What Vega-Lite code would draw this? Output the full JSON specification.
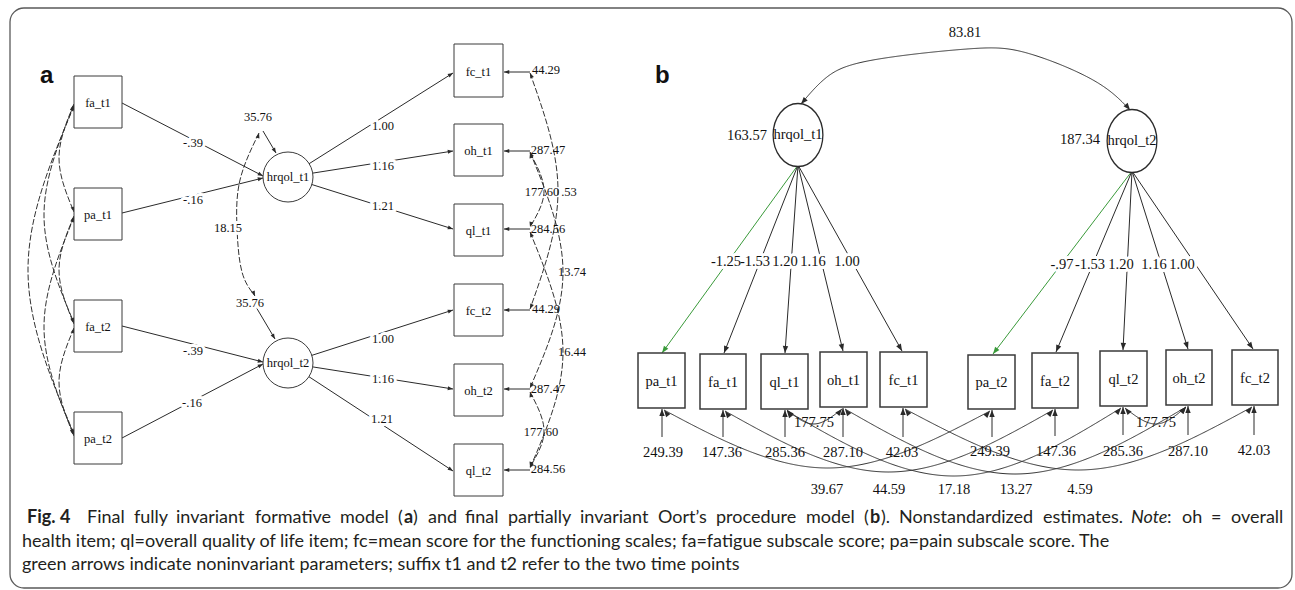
{
"$schema":"https://vega.github.io/schema/vega-lite/v6.json",
"width":1295,"height":590,"autosize":{"type":"none"},"padding":0,"background":"white",
"config":{"view":{"stroke":null}},
"datasets":{
"frame":[{"x":10,"y":8,"x2":1292,"y2":588}],
"boxes":[
{"x":74,"y":76,"x2":122,"y2":128,"t":"fa_t1","p":"a"},
{"x":74,"y":188,"x2":122,"y2":240,"t":"pa_t1","p":"a"},
{"x":74,"y":300,"x2":122,"y2":352,"t":"fa_t2","p":"a"},
{"x":74,"y":412,"x2":122,"y2":464,"t":"pa_t2","p":"a"},
{"x":454,"y":44,"x2":503,"y2":97,"t":"fc_t1","p":"a"},
{"x":454,"y":124,"x2":503,"y2":176,"t":"oh_t1","p":"a"},
{"x":454,"y":204,"x2":503,"y2":256,"t":"ql_t1","p":"a"},
{"x":454,"y":284,"x2":503,"y2":336,"t":"fc_t2","p":"a"},
{"x":454,"y":364,"x2":503,"y2":416,"t":"oh_t2","p":"a"},
{"x":454,"y":444,"x2":503,"y2":496,"t":"ql_t2","p":"a"},
{"x":638,"y":353,"x2":685,"y2":408,"t":"pa_t1","p":"b"},
{"x":700,"y":354,"x2":746,"y2":409,"t":"fa_t1","p":"b"},
{"x":761,"y":354,"x2":808,"y2":409,"t":"ql_t1","p":"b"},
{"x":820,"y":352,"x2":867,"y2":407,"t":"oh_t1","p":"b"},
{"x":880,"y":352,"x2":927,"y2":407,"t":"fc_t1","p":"b"},
{"x":968,"y":355,"x2":1015,"y2":409,"t":"pa_t2","p":"b"},
{"x":1032,"y":353,"x2":1078,"y2":408,"t":"fa_t2","p":"b"},
{"x":1100,"y":351,"x2":1147,"y2":406,"t":"ql_t2","p":"b"},
{"x":1166,"y":350,"x2":1212,"y2":405,"t":"oh_t2","p":"b"},
{"x":1232,"y":350,"x2":1278,"y2":405,"t":"fc_t2","p":"b"}
],
"lat_a":[{"x":288,"y":177,"t":"hrqol_t1"},{"x":288,"y":363,"t":"hrqol_t2"}],
"lat_b":[{"x":798,"y":135,"t":"hrqol_t1"},{"x":1132,"y":141,"t":"hrqol_t2"}],
"edges":[
{"x":122,"y":103,"x2":263,"y2":176,"c":"k","p":"a"},
{"x":122,"y":213,"x2":263,"y2":178,"c":"k","p":"a"},
{"x":288,"y":177,"x2":453,"y2":73,"c":"k","p":"a"},
{"x":288,"y":177,"x2":453,"y2":151,"c":"k","p":"a"},
{"x":288,"y":177,"x2":453,"y2":229,"c":"k","p":"a"},
{"x":122,"y":326,"x2":263,"y2":362,"c":"k","p":"a"},
{"x":122,"y":438,"x2":263,"y2":364,"c":"k","p":"a"},
{"x":288,"y":363,"x2":453,"y2":310,"c":"k","p":"a"},
{"x":288,"y":363,"x2":453,"y2":389,"c":"k","p":"a"},
{"x":288,"y":363,"x2":453,"y2":471,"c":"k","p":"a"},
{"x":530,"y":72,"x2":504,"y2":72,"c":"k","p":"a"},
{"x":530,"y":151,"x2":504,"y2":151,"c":"k","p":"a"},
{"x":530,"y":229,"x2":504,"y2":229,"c":"k","p":"a"},
{"x":530,"y":310,"x2":504,"y2":310,"c":"k","p":"a"},
{"x":530,"y":389,"x2":504,"y2":389,"c":"k","p":"a"},
{"x":530,"y":470,"x2":504,"y2":470,"c":"k","p":"a"},
{"x":263,"y":131,"x2":276,"y2":153,"c":"k","p":"a"},
{"x":256,"y":307,"x2":275,"y2":339,"c":"k","p":"a"},
{"x":798,"y":165,"x2":662,"y2":353,"c":"g","p":"b"},
{"x":798,"y":165,"x2":724,"y2":353,"c":"k","p":"b"},
{"x":798,"y":165,"x2":785,"y2":353,"c":"k","p":"b"},
{"x":798,"y":165,"x2":843,"y2":351,"c":"k","p":"b"},
{"x":798,"y":165,"x2":902,"y2":351,"c":"k","p":"b"},
{"x":1132,"y":171,"x2":993,"y2":354,"c":"g","p":"b"},
{"x":1132,"y":171,"x2":1056,"y2":352,"c":"k","p":"b"},
{"x":1132,"y":171,"x2":1123,"y2":350,"c":"k","p":"b"},
{"x":1132,"y":171,"x2":1188,"y2":349,"c":"k","p":"b"},
{"x":1132,"y":171,"x2":1253,"y2":349,"c":"k","p":"b"},
{"x":662,"y":437,"x2":662,"y2":409,"c":"k","p":"b"},
{"x":723,"y":437,"x2":723,"y2":410,"c":"k","p":"b"},
{"x":785,"y":437,"x2":785,"y2":410,"c":"k","p":"b"},
{"x":843,"y":437,"x2":843,"y2":408,"c":"k","p":"b"},
{"x":903,"y":437,"x2":903,"y2":408,"c":"k","p":"b"},
{"x":992,"y":437,"x2":992,"y2":410,"c":"k","p":"b"},
{"x":1055,"y":436,"x2":1055,"y2":409,"c":"k","p":"b"},
{"x":1123,"y":435,"x2":1123,"y2":407,"c":"k","p":"b"},
{"x":1188,"y":435,"x2":1188,"y2":406,"c":"k","p":"b"},
{"x":1254,"y":435,"x2":1254,"y2":406,"c":"k","p":"b"}
],
"curves":[
{"id":"c1","i":0,"x":74,"y":104,"p":"a"},{"id":"c1","i":1,"x":59,"y":158,"p":"a"},{"id":"c1","i":2,"x":74,"y":212,"p":"a"},
{"id":"c2","i":0,"x":74,"y":216,"p":"a"},{"id":"c2","i":1,"x":59,"y":270,"p":"a"},{"id":"c2","i":2,"x":74,"y":324,"p":"a"},
{"id":"c3","i":0,"x":74,"y":328,"p":"a"},{"id":"c3","i":1,"x":59,"y":382,"p":"a"},{"id":"c3","i":2,"x":74,"y":436,"p":"a"},
{"id":"c4","i":0,"x":74,"y":105,"p":"a"},{"id":"c4","i":1,"x":44,"y":215,"p":"a"},{"id":"c4","i":2,"x":74,"y":323,"p":"a"},
{"id":"c5","i":0,"x":74,"y":217,"p":"a"},{"id":"c5","i":1,"x":44,"y":327,"p":"a"},{"id":"c5","i":2,"x":74,"y":435,"p":"a"},
{"id":"c6","i":0,"x":74,"y":106,"p":"a"},{"id":"c6","i":1,"x":28,"y":270,"p":"a"},{"id":"c6","i":2,"x":74,"y":434,"p":"a"},
{"id":"c7","i":0,"x":530,"y":73,"p":"a"},{"id":"c7","i":1,"x":558,"y":191,"p":"a"},{"id":"c7","i":2,"x":530,"y":309,"p":"a"},
{"id":"c8","i":0,"x":530,"y":152,"p":"a"},{"id":"c8","i":1,"x":563,"y":272,"p":"a"},{"id":"c8","i":2,"x":530,"y":388,"p":"a"},
{"id":"c9","i":0,"x":530,"y":232,"p":"a"},{"id":"c9","i":1,"x":563,"y":352,"p":"a"},{"id":"c9","i":2,"x":530,"y":468,"p":"a"},
{"id":"c10","i":0,"x":530,"y":153,"p":"a"},{"id":"c10","i":1,"x":544,"y":191,"p":"a"},{"id":"c10","i":2,"x":530,"y":227,"p":"a"},
{"id":"c11","i":0,"x":530,"y":392,"p":"a"},{"id":"c11","i":1,"x":544,"y":431,"p":"a"},{"id":"c11","i":2,"x":530,"y":467,"p":"a"},
{"id":"c12","i":0,"x":259,"y":133,"p":"a"},{"id":"c12","i":1,"x":240,"y":180,"p":"a"},{"id":"c12","i":2,"x":237,"y":228,"p":"a"},{"id":"c12","i":3,"x":242,"y":272,"p":"a"},{"id":"c12","i":4,"x":255,"y":296,"p":"a"},
{"id":"c13","i":0,"x":801,"y":104,"p":"b"},{"id":"c13","i":1,"x":827,"y":77,"p":"b"},{"id":"c13","i":2,"x":873,"y":60,"p":"b"},{"id":"c13","i":3,"x":967,"y":49,"p":"b"},{"id":"c13","i":4,"x":1027,"y":53,"p":"b"},{"id":"c13","i":5,"x":1093,"y":80,"p":"b"},{"id":"c13","i":6,"x":1130,"y":110,"p":"b"},
{"id":"c14","i":0,"x":787,"y":410,"p":"b"},{"id":"c14","i":1,"x":814,"y":424,"p":"b"},{"id":"c14","i":2,"x":842,"y":409,"p":"b"},
{"id":"c15","i":0,"x":1125,"y":408,"p":"b"},{"id":"c15","i":1,"x":1156,"y":424,"p":"b"},{"id":"c15","i":2,"x":1186,"y":407,"p":"b"},
{"id":"c16","i":0,"x":664,"y":410,"p":"b"},{"id":"c16","i":1,"x":827,"y":468,"p":"b"},{"id":"c16","i":2,"x":990,"y":411,"p":"b"},
{"id":"c17","i":0,"x":725,"y":411,"p":"b"},{"id":"c17","i":1,"x":889,"y":472,"p":"b"},{"id":"c17","i":2,"x":1053,"y":410,"p":"b"},
{"id":"c18","i":0,"x":787,"y":411,"p":"b"},{"id":"c18","i":1,"x":955,"y":476,"p":"b"},{"id":"c18","i":2,"x":1121,"y":408,"p":"b"},
{"id":"c19","i":0,"x":845,"y":409,"p":"b"},{"id":"c19","i":1,"x":1016,"y":474,"p":"b"},{"id":"c19","i":2,"x":1186,"y":407,"p":"b"},
{"id":"c20","i":0,"x":905,"y":409,"p":"b"},{"id":"c20","i":1,"x":1079,"y":470,"p":"b"},{"id":"c20","i":2,"x":1252,"y":407,"p":"b"}
],
"cheads":[
{"x":74,"y":104,"fx":72,"fy":111,"p":"a"},{"x":74,"y":212,"fx":72,"fy":205,"p":"a"},
{"x":74,"y":216,"fx":72,"fy":223,"p":"a"},{"x":74,"y":324,"fx":72,"fy":317,"p":"a"},
{"x":74,"y":328,"fx":72,"fy":335,"p":"a"},{"x":74,"y":436,"fx":72,"fy":429,"p":"a"},
{"x":74,"y":105,"fx":71,"fy":113,"p":"a"},{"x":74,"y":323,"fx":71,"fy":315,"p":"a"},
{"x":74,"y":217,"fx":71,"fy":225,"p":"a"},{"x":74,"y":435,"fx":71,"fy":427,"p":"a"},
{"x":74,"y":106,"fx":70,"fy":114,"p":"a"},{"x":74,"y":434,"fx":70,"fy":426,"p":"a"},
{"x":530,"y":73,"fx":533,"fy":80,"p":"a"},{"x":530,"y":309,"fx":533,"fy":302,"p":"a"},
{"x":530,"y":152,"fx":533,"fy":159,"p":"a"},{"x":530,"y":388,"fx":533,"fy":381,"p":"a"},
{"x":530,"y":232,"fx":533,"fy":239,"p":"a"},{"x":530,"y":468,"fx":533,"fy":461,"p":"a"},
{"x":530,"y":153,"fx":532,"fy":160,"p":"a"},{"x":530,"y":227,"fx":532,"fy":220,"p":"a"},
{"x":530,"y":392,"fx":532,"fy":399,"p":"a"},{"x":530,"y":467,"fx":532,"fy":460,"p":"a"},
{"x":259,"y":133,"fx":257,"fy":140,"p":"a"},{"x":255,"y":296,"fx":252,"fy":289,"p":"a"},
{"x":801,"y":104,"fx":810,"fy":94,"p":"b"},{"x":1130,"y":110,"fx":1122,"fy":100,"p":"b"},
{"x":787,"y":410,"fx":793,"fy":417,"p":"b"},{"x":842,"y":409,"fx":836,"fy":416,"p":"b"},
{"x":1125,"y":408,"fx":1131,"fy":415,"p":"b"},{"x":1186,"y":407,"fx":1180,"fy":414,"p":"b"},
{"x":664,"y":410,"fx":670,"fy":418,"p":"b"},{"x":990,"y":411,"fx":983,"fy":419,"p":"b"},
{"x":725,"y":411,"fx":731,"fy":419,"p":"b"},{"x":1053,"y":410,"fx":1046,"fy":418,"p":"b"},
{"x":787,"y":411,"fx":793,"fy":419,"p":"b"},{"x":1121,"y":408,"fx":1114,"fy":416,"p":"b"},
{"x":845,"y":409,"fx":851,"fy":417,"p":"b"},{"x":1186,"y":407,"fx":1179,"fy":415,"p":"b"},
{"x":905,"y":409,"fx":911,"fy":417,"p":"b"},{"x":1252,"y":407,"fx":1245,"fy":415,"p":"b"}
],
"la_h":[
{"x":193,"y":143,"t":"-.39"},{"x":193,"y":200,"t":"-.16"},{"x":228,"y":228,"t":"18.15"},
{"x":383,"y":126,"t":"1.00"},{"x":383,"y":166,"t":"1.16"},{"x":383,"y":206,"t":"1.21"},
{"x":193,"y":351,"t":"-.39"},{"x":192,"y":403,"t":"-.16"},
{"x":383,"y":339,"t":"1.00"},{"x":383,"y":379,"t":"1.16"},{"x":382,"y":419,"t":"1.21"},
{"x":258,"y":117,"t":"35.76"},{"x":250,"y":303,"t":"35.76"}
],
"la":[
{"x":546,"y":70,"t":"44.29"},{"x":548,"y":150,"t":"287.47"},{"x":548,"y":229,"t":"284.56"},
{"x":546,"y":309,"t":"44.29"},{"x":548,"y":389,"t":"287.47"},{"x":548,"y":469,"t":"284.56"},
{"x":569,"y":192,"t":".53"},{"x":542,"y":192,"t":"177.60"},{"x":572,"y":272,"t":"13.74"},
{"x":572,"y":352,"t":"16.44"},{"x":541,"y":432,"t":"177.60"}
],
"lb_h":[
{"x":726,"y":262,"t":"-1.25"},{"x":755,"y":262,"t":"-1.53"},{"x":785,"y":262,"t":"1.20"},{"x":813,"y":262,"t":"1.16"},{"x":847,"y":262,"t":"1.00"},
{"x":1062,"y":265,"t":"-.97"},{"x":1090,"y":265,"t":"-1.53"},{"x":1121,"y":265,"t":"1.20"},{"x":1154,"y":265,"t":"1.16"},{"x":1182,"y":265,"t":"1.00"}
],
"lb":[
{"x":747,"y":136,"t":"163.57"},{"x":1080,"y":140,"t":"187.34"},{"x":965,"y":33,"t":"83.81"},
{"x":663,"y":453,"t":"249.39"},{"x":722,"y":453,"t":"147.36"},{"x":785,"y":453,"t":"285.36"},{"x":843,"y":453,"t":"287.10"},{"x":902,"y":453,"t":"42.03"},
{"x":990,"y":452,"t":"249.39"},{"x":1056,"y":452,"t":"147.36"},{"x":1123,"y":452,"t":"285.36"},{"x":1188,"y":452,"t":"287.10"},{"x":1254,"y":451,"t":"42.03"},
{"x":814,"y":423,"t":"177.75"},{"x":1156,"y":423,"t":"177.75"},
{"x":827,"y":490,"t":"39.67"},{"x":889,"y":490,"t":"44.59"},{"x":954,"y":490,"t":"17.18"},{"x":1016,"y":490,"t":"13.27"},{"x":1080,"y":490,"t":"4.59"}
],
"letters":[{"x":40,"y":83,"t":"a"},{"x":655,"y":83,"t":"b"}],
"cap":[
{"x":27,"y":523,"t":"Fig. 4","w":"b"},
{"x":87,"y":523,"t":"Final","w":"n"},
{"x":134,"y":523,"t":"fully","w":"n"},
{"x":176,"y":523,"t":"invariant","w":"n"},
{"x":255,"y":523,"t":"formative","w":"n"},
{"x":340,"y":523,"t":"model","w":"n"},
{"x":398,"y":523,"t":"(","w":"n"},
{"x":404,"y":523,"t":"a","w":"b"},
{"x":413,"y":523,"t":")","w":"n"},
{"x":428,"y":523,"t":"and","w":"n"},
{"x":465,"y":523,"t":"final","w":"n"},
{"x":508,"y":523,"t":"partially","w":"n"},
{"x":580,"y":523,"t":"invariant","w":"n"},
{"x":658,"y":523,"t":"Oort’s","w":"n"},
{"x":716,"y":523,"t":"procedure","w":"n"},
{"x":806,"y":523,"t":"model","w":"n"},
{"x":864,"y":523,"t":"(","w":"n"},
{"x":870,"y":523,"t":"b","w":"b"},
{"x":881,"y":523,"t":").","w":"n"},
{"x":899,"y":523,"t":"Nonstandardized","w":"n"},
{"x":1043,"y":523,"t":"estimates.","w":"n"},
{"x":1131,"y":523,"t":"Note","w":"i"},
{"x":1167,"y":523,"t":":","w":"n"},
{"x":1182,"y":523,"t":"oh","w":"n"},
{"x":1211,"y":523,"t":"=","w":"n"},
{"x":1231,"y":523,"t":"overall","w":"n"},
{"x":22,"y":547,"t":"health item; ql=overall quality of life item; fc=mean score for the functioning scales; fa=fatigue subscale score; pa=pain subscale score. The","w":"n"},
{"x":22,"y":570,"t":"green arrows indicate noninvariant parameters; suffix t1 and t2 refer to the two time points","w":"n"}
]
},
"encoding":{
"x":{"field":"x","type":"quantitative","scale":{"domain":[0,1295],"nice":false,"zero":false},"axis":null},
"y":{"field":"y","type":"quantitative","scale":{"domain":[0,590],"nice":false,"zero":false,"reverse":true},"axis":null}
},
"layer":[
{"data":{"name":"frame"},"mark":{"type":"rect","cornerRadius":14,"fill":"white","fillOpacity":0,"stroke":"#5a5a5a","strokeWidth":1.3},"encoding":{"x2":{"field":"x2"},"y2":{"field":"y2"}}},
{"data":{"name":"curves"},"mark":{"type":"line","interpolate":"natural","strokeWidth":1,"color":"#333333"},"encoding":{"detail":{"field":"id","type":"nominal"},"order":{"field":"i","type":"quantitative"},"strokeDash":{"field":"p","type":"nominal","scale":{"domain":["a","b"],"range":[[6,2],[1,0]]},"legend":null}}},
{"data":{"name":"edges"},"mark":{"type":"rule","strokeWidth":1},"encoding":{"x2":{"field":"x2"},"y2":{"field":"y2"},"color":{"field":"c","type":"nominal","scale":{"domain":["k","g"],"range":["#2a2a2a","#3a9a3a"]},"legend":null}}},
{"data":{"name":"edges"},"transform":[{"calculate":"atan2(datum.x2-datum.x, datum.y-datum.y2)*180/PI","as":"ang"},{"calculate":"datum.x2","as":"x"},{"calculate":"datum.y2","as":"y"}],"mark":{"type":"point","shape":"M0,0L-0.38,1L0.38,1Z","filled":true,"opacity":1},"encoding":{"angle":{"field":"ang","type":"quantitative","scale":null},"size":{"field":"p","type":"nominal","scale":{"domain":["a","b"],"range":[110,200]},"legend":null},"color":{"field":"c","type":"nominal","scale":{"domain":["k","g"],"range":["#2a2a2a","#3a9a3a"]},"legend":null}}},
{"data":{"name":"cheads"},"transform":[{"calculate":"atan2(datum.x-datum.fx, datum.fy-datum.y)*180/PI","as":"ang"}],"mark":{"type":"point","shape":"M0,0L-0.38,1L0.38,1Z","filled":true,"opacity":1,"color":"#2a2a2a"},"encoding":{"angle":{"field":"ang","type":"quantitative","scale":null},"size":{"field":"p","type":"nominal","scale":{"domain":["a","b"],"range":[110,200]},"legend":null}}},
{"data":{"name":"boxes"},"mark":{"type":"rect","fill":"white","stroke":"#3a3a3a"},"encoding":{"x2":{"field":"x2"},"y2":{"field":"y2"},"strokeWidth":{"field":"p","type":"nominal","scale":{"domain":["a","b"],"range":[1,1.5]},"legend":null}}},
{"data":{"name":"boxes"},"transform":[{"filter":"datum.p=='a'"},{"calculate":"(datum.x+datum.x2)/2","as":"x"},{"calculate":"(datum.y+datum.y2)/2+1","as":"y"}],"mark":{"type":"text","font":"Liberation Serif","fontSize":12.5,"color":"#111"},"encoding":{"text":{"field":"t"}}},
{"data":{"name":"boxes"},"transform":[{"filter":"datum.p=='b'"},{"calculate":"(datum.x+datum.x2)/2","as":"x"},{"calculate":"(datum.y+datum.y2)/2+1","as":"y"}],"mark":{"type":"text","font":"Liberation Serif","fontSize":14.5,"color":"#111"},"encoding":{"text":{"field":"t"}}},
{"data":{"name":"lat_a"},"mark":{"type":"point","shape":"circle","size":2500,"filled":true,"fill":"white","stroke":"#3a3a3a","strokeWidth":1,"opacity":1}},
{"data":{"name":"lat_b"},"mark":{"type":"point","shape":"M0,-1C0.44,-1 0.79,-0.55 0.79,0C0.79,0.55 0.44,1 0,1C-0.44,1 -0.79,0.55 -0.79,0C-0.79,-0.55 -0.44,-1 0,-1Z","size":3969,"filled":true,"fill":"white","stroke":"#2a2a2a","strokeWidth":1.3,"opacity":1}},
{"data":{"name":"lat_a"},"mark":{"type":"text","font":"Liberation Serif","fontSize":12.5,"color":"#111"},"encoding":{"text":{"field":"t"}}},
{"data":{"name":"lat_b"},"mark":{"type":"text","font":"Liberation Serif","fontSize":14.5,"color":"#111"},"encoding":{"text":{"field":"t"}}},
{"data":{"name":"la_h"},"mark":{"type":"text","font":"Liberation Serif","fontSize":12.5,"color":"white","stroke":"white","strokeWidth":6,"strokeJoin":"round"},"encoding":{"text":{"field":"t"}}},
{"data":{"name":"la_h"},"mark":{"type":"text","font":"Liberation Serif","fontSize":12.5,"color":"#111"},"encoding":{"text":{"field":"t"}}},
{"data":{"name":"la"},"mark":{"type":"text","font":"Liberation Serif","fontSize":12.5,"color":"#111"},"encoding":{"text":{"field":"t"}}},
{"data":{"name":"lb_h"},"mark":{"type":"text","font":"Liberation Serif","fontSize":14.5,"color":"white","stroke":"white","strokeWidth":6,"strokeJoin":"round"},"encoding":{"text":{"field":"t"}}},
{"data":{"name":"lb_h"},"mark":{"type":"text","font":"Liberation Serif","fontSize":14.5,"color":"#111"},"encoding":{"text":{"field":"t"}}},
{"data":{"name":"lb"},"mark":{"type":"text","font":"Liberation Serif","fontSize":14.5,"color":"#111"},"encoding":{"text":{"field":"t"}}},
{"data":{"name":"letters"},"mark":{"type":"text","font":"Liberation Sans","fontSize":24,"fontWeight":"bold","align":"left","baseline":"alphabetic","color":"#111"},"encoding":{"text":{"field":"t"}}},
{"data":{"name":"cap"},"transform":[{"filter":"datum.w=='n'"}],"mark":{"type":"text","font":"Lato","fontSize":18,"align":"left","baseline":"alphabetic","color":"#231f20"},"encoding":{"text":{"field":"t"}}},
{"data":{"name":"cap"},"transform":[{"filter":"datum.w=='b'"}],"mark":{"type":"text","font":"Lato","fontSize":18,"fontWeight":"bold","align":"left","baseline":"alphabetic","color":"#231f20"},"encoding":{"text":{"field":"t"}}},
{"data":{"name":"cap"},"transform":[{"filter":"datum.w=='i'"}],"mark":{"type":"text","font":"Lato","fontSize":18,"fontStyle":"italic","align":"left","baseline":"alphabetic","color":"#231f20"},"encoding":{"text":{"field":"t"}}}
]
}
